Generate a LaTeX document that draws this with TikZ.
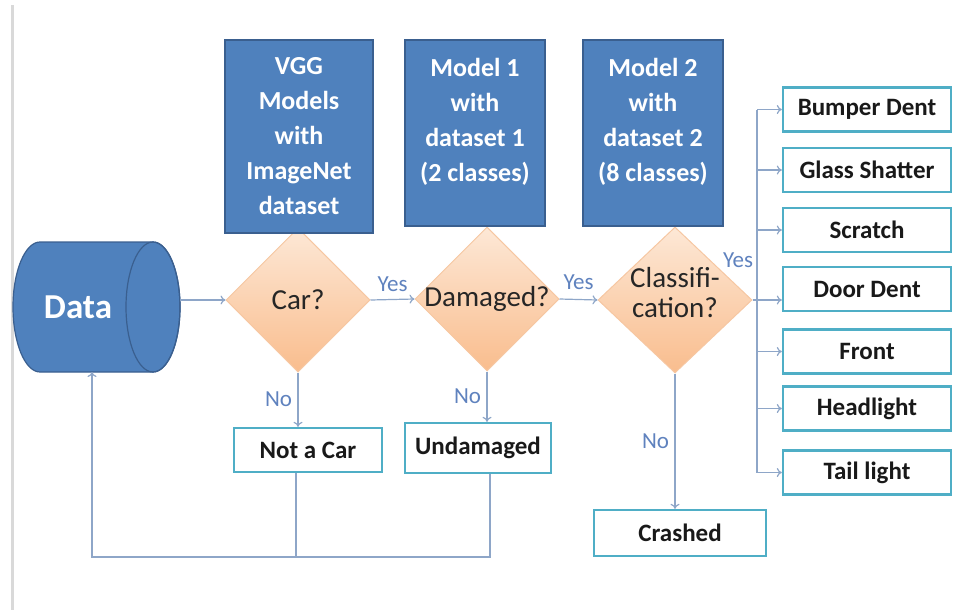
\documentclass[tikz,border=0pt]{standalone}
\usepackage{fontspec}
\setmainfont{Carlito}
\usetikzlibrary{shapes.geometric,arrows.meta,positioning}

\definecolor{modelblue}{HTML}{4F81BD}
\definecolor{modeledge}{HTML}{3A5F8F}
\definecolor{diamondtop}{HTML}{FDE8D6}
\definecolor{diamondbot}{HTML}{F9BD8E}
\definecolor{diamondedge}{HTML}{F6C7A2}
\definecolor{boxedge}{HTML}{4FAEC6}
\definecolor{linegray}{HTML}{8EA6C8}
\definecolor{answerblue}{HTML}{5F82BE}

\begin{document}
\begin{tikzpicture}[x=1pt, y=-1pt,
    model/.style={draw=modeledge, line width=1.2pt, fill=modelblue, text=white,
        font=\fontsize{26}{35}\selectfont\bfseries, align=center, inner sep=0pt},
    decision/.style={diamond, draw=diamondedge, line width=1pt, top color=diamondtop,
        bottom color=diamondbot, inner sep=0pt, minimum width=144pt, minimum height=144pt},
    decisiontext/.style={font=\fontsize{29}{30}\selectfont, text=black!85, align=center},
    outcome/.style={draw=boxedge, line width=2.4pt, fill=white, text=black!90,
        font=\fontsize{25}{30}\selectfont\bfseries, inner sep=0pt},
    answer/.style={text=answerblue, font=\fontsize{23}{26}\selectfont},
    line/.style={draw=linegray, line width=1.2pt},
    flow/.style={line, -{To[length=5pt,width=9pt]}},
]
    \useasboundingbox (0,0) rectangle (954,613);
    \draw[black!15, line width=3pt] (12,5) -- (12,610);

    % source drum
    \draw[modeledge, line width=1.2pt, fill=modelblue] (40,242) -- (153,242)
        arc[start angle=90, end angle=-90, x radius=27pt, y radius=65pt] -- (40,372)
        arc[start angle=270, end angle=90, x radius=27pt, y radius=65pt] -- cycle;
    \draw[modeledge, line width=1.2pt] (153,307) ellipse[x radius=27pt, y radius=65pt];
    \node[text=white, font=\fontsize{35}{40}\selectfont\bfseries] (data) at (78,307) {Data};
    \coordinate (dataout) at (180,300);
    \coordinate (datain) at (92,372);

    % decisions
    \node[decision, label={[decisiontext]center:Car?}] (car) at (298,300) {};
    \node[decision, label={[decisiontext]center:Damaged?}] (dmg) at (487,299) {};
    \node[decision, minimum width=154pt, minimum height=146pt,
        label={[decisiontext, yshift=7pt]center:Classifi-\\cation?}] (cls) at (675,300) {};

    % models above the decisions
    \node[model, minimum width=148pt, minimum height=193pt] (vgg) at (299,136.5)
        {VGG\\Models\\with\\ImageNet\\dataset};
    \node[model, minimum width=140pt, minimum height=186pt, text depth=26pt] (m1) at (475,133)
        {Model 1\\with\\dataset 1\\(2 classes)};
    \node[model, minimum width=140pt, minimum height=186pt, text depth=26pt] (m2) at (653,133)
        {Model 2\\with\\dataset 2\\(8 classes)};

    % outcomes
    \node[outcome, minimum width=148pt, minimum height=44pt] (nocar) at (308,450) {Not a Car};
    \node[outcome, minimum width=146pt, minimum height=50pt] (undmg) at (478,448) {Undamaged};
    \node[outcome, minimum width=172pt, minimum height=46pt] (crash) at (680,533) {Crashed};
    \foreach \name/\txt/\yy in {bumper/Bumper Dent/109.5, glass/Glass Shatter/170,
        scratch/Scratch/230, door/Door Dent/289, front/Front/351.5,
        head/Headlight/408.5, tail/Tail light/472.5}
        \node[outcome, minimum width=168pt, minimum height=44pt] (\name) at (867,\yy) {\txt};

    % main flow
    \draw[flow] (dataout) -- (car.west);
    \draw[flow] (car.east) -- node[answer, above=4pt] (yes1) {Yes} (dmg.west);
    \draw[flow] (dmg.east) -- node[answer, above=6pt] (yes2) {Yes} (cls.west);
    \draw[flow] (car.south) -- node[answer, left=2pt] (no1) {No} (car.south |- nocar.north);
    \draw[flow] (dmg.south) -- node[answer, left=2pt] (no2) {No} (dmg.south |- undmg.north);
    \draw[flow] (cls.south) -- node[answer, left=2pt] (no3) {No} (cls.south |- crash.north);

    % damage classes
    \coordinate (bus) at (757,300);
    \node[answer] (yes3) at (738,260) {Yes};
    \draw[flow] (cls.east) -- (cls.east -| door.west);
    \draw[line] (bumper.west -| bus) -- (tail.west -| bus);
    \foreach \name in {bumper,glass,scratch,front,head,tail}
        \draw[flow] (\name.west -| bus) -- (\name.west);

    % back to the data
    \coordinate (fb) at (92,557);
    \draw[line] ([xshift=-12pt]nocar.south) -- ([xshift=-12pt]nocar.south |- fb);
    \draw[flow] ([xshift=12pt]undmg.south) |- (fb) -- (datain);
\end{tikzpicture}
\end{document}
